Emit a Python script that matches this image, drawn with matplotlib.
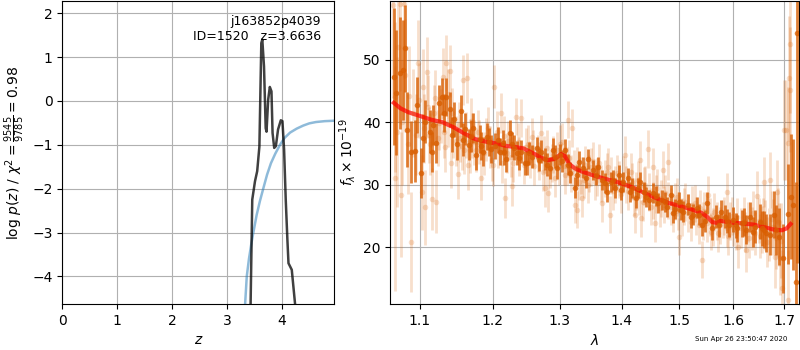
import matplotlib
matplotlib.use("Agg")
import matplotlib.pyplot as plt
import numpy as np

# ---- redshift probability ----
pz_z = [3.42, 3.43, 3.46, 3.51, 3.55, 3.59, 3.625, 3.643, 3.674, 3.705, 3.72,
        3.75, 3.78, 3.81, 3.83, 3.86, 3.89, 3.93, 3.98, 4.01, 4.04, 4.07,
        4.10, 4.12, 4.18, 4.24, 4.27]
pz_logp = [-6.0, -4.63, -2.25, -1.83, -1.60, -1.04, 1.32, 1.40, 0.79, -0.62, -0.70,
           0.03, 0.32, 0.22, -0.73, -1.07, -1.03, -0.65, -0.44, -0.46, -1.11, -2.25,
           -3.16, -3.70, -3.85, -4.63, -6.0]

cum_z = [3.30, 3.33, 3.36, 3.40, 3.44, 3.48, 3.54, 3.60, 3.66, 3.73, 3.80, 3.88,
         3.965, 4.05, 4.15, 4.27, 4.39, 4.50, 4.62, 4.78, 4.955]
cum_log = [-5.2, -4.63, -4.0, -3.6, -3.28, -3.0, -2.6, -2.28, -2.0, -1.68, -1.42, -1.2,
           -1.0, -0.84, -0.72, -0.63, -0.56, -0.51, -0.48, -0.46, -0.45]

# ---- spectrum: well-sampled beams ----
wave_a = [1.0663, 1.0693, 1.0736, 1.0779, 1.0809, 1.0834, 1.0886, 1.0931, 1.0965, 1.1017,
          1.1070, 1.1128, 1.1163, 1.1208, 1.1249, 1.1297, 1.1351, 1.1397, 1.1456, 1.1502,
          1.1557, 1.1604, 1.1659, 1.1719, 1.1766, 1.1813, 1.1860, 1.1921, 1.1978, 1.2036,
          1.2100, 1.2148, 1.2196, 1.2245, 1.2308, 1.2357, 1.2416, 1.2475,
          1.2497, 1.2573, 1.2648, 1.2713, 1.2774, 1.2850, 1.2901, 1.2954, 1.3005, 1.3083,
          1.3162, 1.3241, 1.3304, 1.3373, 1.3454, 1.3535, 1.3606, 1.3681, 1.3753, 1.3824,
          1.3890, 1.3956, 1.4028, 1.4102, 1.4170, 1.4243, 1.4311, 1.4385, 1.4467, 1.4541,
          1.4628, 1.4698,
          1.4776, 1.4847, 1.4924, 1.5000, 1.5072, 1.5162, 1.5242, 1.5316, 1.5407, 1.5500,
          1.5593, 1.5674, 1.5762, 1.5844, 1.5925, 1.6001, 1.6078, 1.6163, 1.6246, 1.6324,
          1.6409, 1.6507, 1.6601, 1.6706, 1.6786, 1.6887, 1.6976, 1.7070, 1.7139, 1.7181,
          1.7249, 1.7263]
flux_a = [47.3, 44.7, 47.9, 48.3, 51.8, 38.8, 35.2, 35.4, 42.7, 31.9,
          40.1, 38.5, 35.2, 36.7, 43.0, 44.1, 44.0, 42.1, 40.5, 36.5,
          41.8, 38.9, 36.4, 39.1, 34.8, 37.3, 35.3, 37.7, 35.7, 36.2,
          35.3, 36.7, 34.1, 38.3, 35.9, 35.1, 35.3, 33.5,
          33.5, 34.5, 35.9, 35.3, 34.1, 32.7, 35.6, 32.7, 34.8, 35.6,
          31.9, 29.5, 33.7, 32.7, 34.1, 32.4, 32.9, 30.8, 28.9, 30.5,
          29.5, 31.6, 30.5, 31.1, 29.5, 27.9, 30.4, 28.9, 27.6, 28.7,
          27.1, 27.6,
          26.5, 28.4, 26.1, 27.3, 25.7, 26.8, 25.2, 26.3, 23.6, 27.1,
          23.0, 24.9, 25.7, 24.9, 23.6, 24.4, 23.0, 23.8, 22.8, 24.9,
          23.3, 24.1, 22.8, 22.0, 25.2, 21.7, 18.2, 25.3, 28.1, 26.8,
          14.5, 54.3]
err_a = [11.0, 10.0, 9.0, 8.0, 7.0, 6.0, 5.0, 5.0, 4.5, 4.0,
         3.5, 3.5, 3.2, 3.2, 3.0, 3.0, 3.0, 2.8, 2.8, 2.6,
         2.6, 2.5, 2.5, 2.4, 2.4, 2.3, 2.3, 2.2, 2.2, 2.1,
         2.1, 2.0, 2.0, 2.0, 2.0, 1.9, 1.9, 1.9,
         1.9, 1.9, 1.8, 1.8, 1.8, 1.8, 1.8, 1.8, 1.7, 1.7,
         1.7, 1.7, 1.7, 1.7, 1.6, 1.6, 1.6, 1.6, 1.6, 1.6,
         1.6, 1.6, 1.6, 1.6, 1.6, 1.6, 1.6, 1.6, 1.6, 1.6,
         1.6, 1.6,
         1.6, 1.6, 1.6, 1.6, 1.7, 1.7, 1.7, 1.7, 1.8, 1.8,
         1.8, 1.8, 1.9, 1.9, 2.0, 2.0, 2.1, 2.2, 2.3, 2.4,
         2.6, 2.8, 3.0, 3.3, 3.8, 4.5, 5.5, 8.0, 10.0, 10.5,
         16.0, 36.8]

wave_a2 = [1.1040, 1.1180, 1.1320, 1.1430, 1.1580, 1.1690, 1.1840, 1.1950, 1.2070, 1.2170,
           1.2280, 1.2380, 1.2530, 1.2680, 1.2800, 1.2930, 1.3040, 1.3130, 1.3270, 1.3420,
           1.3570, 1.3720, 1.3860, 1.3990, 1.4140, 1.4280, 1.4420, 1.4580, 1.4740, 1.4880,
           1.5030, 1.5200, 1.5360, 1.5460, 1.5720, 1.5880, 1.6040, 1.6200, 1.6370, 1.6560,
           1.6640, 1.6830]
flux_a2 = [37.5, 39.5, 41.5, 38.0, 37.2, 37.8, 36.2, 36.8, 37.2, 35.2,
           36.5, 34.2, 35.0, 34.0, 33.2, 34.5, 33.8, 33.2, 31.5, 31.0,
           31.5, 30.2, 30.8, 29.2, 28.8, 29.5, 28.0, 28.2, 27.2, 25.5,
           26.0, 24.8, 25.2, 24.2, 23.5, 24.2, 23.5, 24.0, 22.5, 23.0,
           22.3, 22.8]
err_a2 = [3.8, 3.2, 3.0, 2.8, 2.6, 2.5, 2.3, 2.2, 2.1, 2.0,
          2.0, 1.9, 1.9, 1.8, 1.8, 1.8, 1.7, 1.7, 1.7, 1.6,
          1.6, 1.6, 1.6, 1.6, 1.6, 1.6, 1.6, 1.6, 1.6, 1.6,
          1.7, 1.7, 1.7, 1.8, 1.8, 1.9, 2.0, 2.2, 2.4, 2.8,
          3.0, 4.0]

# ---- spectrum: noisier beams ----
wave_b = [1.0650, 1.0673, 1.0700, 1.0741, 1.0750, 1.0790, 1.0860, 1.0886, 1.0974, 1.1026,
          1.1044, 1.1070, 1.1096, 1.1120, 1.1159, 1.1185, 1.1218, 1.1255, 1.1306, 1.1330,
          1.1350, 1.1380, 1.1405, 1.1419, 1.1450, 1.1511, 1.1540, 1.1581, 1.1600, 1.1636,
          1.1650, 1.1690, 1.1740, 1.1790, 1.1837, 1.1880, 1.1930, 1.1990, 1.2019, 1.2060,
          1.2114, 1.2130, 1.2180, 1.2220, 1.2260, 1.2279, 1.2343, 1.2370, 1.2416, 1.2450,
          1.2520, 1.2573, 1.2610, 1.2660, 1.2713, 1.2740, 1.2774, 1.2800, 1.2820, 1.2880,
          1.2920, 1.2960, 1.3032, 1.3060, 1.3090, 1.3126, 1.3150, 1.3189, 1.3220, 1.3241,
          1.3268, 1.3300, 1.3357, 1.3400, 1.3440, 1.3500, 1.3560, 1.3620, 1.3681, 1.3720,
          1.3780, 1.3807, 1.3860, 1.3920, 1.3990, 1.4057, 1.4100, 1.4150, 1.4200, 1.4226,
          1.4270, 1.4311, 1.4328, 1.4360, 1.4400, 1.4439, 1.4500, 1.4541, 1.4564, 1.4600,
          1.4650, 1.4705, 1.4750, 1.4804, 1.4880, 1.4950, 1.5000, 1.5050, 1.5100, 1.5200,
          1.5280, 1.5350, 1.5407, 1.5450, 1.5530, 1.5580, 1.5640, 1.5700, 1.5800, 1.5876,
          1.5900, 1.5970, 1.6040, 1.6097, 1.6200, 1.6246, 1.6300, 1.6380, 1.6456, 1.6520,
          1.6580, 1.6601, 1.6650, 1.6720, 1.6750, 1.6821, 1.6855, 1.6900, 1.6921, 1.6960,
          1.7003, 1.7038, 1.7070, 1.7085, 1.7092, 1.7110, 1.7125]
flux_b = [58.8, 31.0, 38.5, 59.0, 28.4, 58.9, 44.2, 20.8, 49.4, 28.8,
          45.7, 26.4, 48.1, 38.0, 27.7, 41.5, 27.3, 39.8, 47.3, 36.0,
          49.5, 44.5, 48.2, 33.5, 38.2, 31.7, 37.5, 46.7, 35.5, 47.0,
          33.1, 40.2, 36.8, 38.5, 31.0, 35.0, 39.0, 34.0, 45.7, 38.5,
          41.5, 33.5, 27.9, 37.0, 34.5, 29.8, 40.9, 36.8, 40.7, 33.2,
          36.5, 37.7, 33.0, 35.0, 38.2, 32.0, 29.5, 35.8, 28.7, 33.5,
          31.0, 35.5, 36.9, 33.0, 31.5, 40.4, 34.2, 39.1, 32.5, 26.8,
          26.0, 30.5, 27.9, 33.2, 30.0, 32.8, 30.5, 33.5, 27.1, 31.0,
          32.8, 25.2, 29.0, 31.8, 28.5, 34.8, 29.0, 32.0, 28.0, 25.2,
          30.8, 34.0, 24.6, 27.2, 30.0, 35.7, 26.5, 32.8, 23.8, 29.5,
          26.2, 32.4, 28.6, 33.7, 25.5, 28.0, 21.7, 24.8, 27.2, 24.0,
          27.0, 23.5, 18.0, 25.8, 28.4, 22.5, 25.6, 22.2, 24.5, 28.9,
          21.8, 25.0, 22.5, 20.1, 24.8, 19.6, 21.5, 25.5, 28.2, 21.8,
          24.0, 30.5, 20.8, 30.7, 24.5, 18.5, 28.9, 22.0, 18.3, 13.5,
          38.8, 38.7, 11.6, 36.7, 47.0, 45.2, 52.5]
err_b = [15.0, 18.0, 12.0, 14.0, 10.0, 12.0, 8.0, 8.0, 7.0, 6.0,
         6.0, 6.0, 5.5, 4.5, 5.0, 4.5, 5.0, 4.2, 4.5, 4.0,
         4.5, 4.0, 4.2, 4.0, 4.0, 4.0, 3.8, 4.0, 3.8, 4.0,
         4.0, 3.6, 3.6, 3.5, 3.5, 3.5, 3.4, 3.4, 3.5, 3.3,
         3.2, 3.3, 3.2, 3.2, 3.2, 3.2, 3.0, 3.1, 3.0, 3.1,
         3.0, 3.0, 3.0, 3.0, 3.0, 3.0, 3.0, 3.0, 3.0, 3.0,
         3.0, 3.0, 3.0, 3.0, 3.0, 3.0, 3.0, 3.0, 3.0, 3.0,
         3.0, 3.0, 3.0, 3.0, 3.0, 3.0, 3.0, 3.0, 3.0, 3.0,
         3.0, 3.0, 3.0, 3.0, 3.0, 3.0, 3.0, 3.0, 3.0, 3.0,
         3.0, 3.0, 3.0, 3.0, 3.0, 3.0, 3.0, 3.0, 3.0, 3.0,
         3.0, 3.0, 3.0, 3.0, 3.0, 3.0, 3.0, 3.0, 3.0, 3.0,
         3.0, 3.0, 3.0, 3.0, 3.0, 3.0, 3.0, 3.0, 3.0, 3.0,
         3.0, 3.0, 3.0, 3.5, 3.2, 3.5, 3.2, 3.5, 4.0, 3.5,
         3.8, 4.0, 4.0, 4.5, 4.5, 5.0, 5.0, 5.0, 6.0, 6.0,
         8.0, 8.0, 8.0, 9.0, 10.0, 10.0, 11.0]

wave_c = [1.0680, 1.0720, 1.0765, 1.0800, 1.0840, 1.0905, 1.0945, 1.0990, 1.1050, 1.1110,
          1.1140, 1.1200, 1.1235, 1.1280, 1.1320, 1.1370, 1.1430, 1.1480, 1.1525, 1.1570,
          1.1620, 1.1675, 1.1710, 1.1760, 1.1810, 1.1900, 1.1960, 1.2000, 1.2080, 1.2160,
          1.2200, 1.2300, 1.2390, 1.2480, 1.2550, 1.2590, 1.2690, 1.2760, 1.2850, 1.2900,
          1.2990, 1.3010, 1.3110, 1.3180, 1.3270, 1.3330, 1.3380, 1.3470, 1.3530, 1.3600,
          1.3660, 1.3750, 1.3830, 1.3890, 1.3950, 1.4020, 1.4080, 1.4180, 1.4240, 1.4290,
          1.4380, 1.4460, 1.4530, 1.4580, 1.4680, 1.4730, 1.4790, 1.4850, 1.4920, 1.4980,
          1.5080, 1.5150, 1.5230, 1.5300, 1.5380, 1.5420, 1.5500, 1.5560, 1.5620, 1.5680,
          1.5750, 1.5830, 1.5880, 1.5940, 1.6000, 1.6070, 1.6150, 1.6220, 1.6280, 1.6350,
          1.6420, 1.6490, 1.6550, 1.6620, 1.6700, 1.6780, 1.6840, 1.6880, 1.6940]
flux_c = [44.0, 52.0, 40.0, 47.5, 36.5, 41.5, 38.0, 43.5, 39.0, 42.5,
          36.5, 43.8, 37.5, 41.0, 38.5, 40.0, 41.5, 37.0, 39.5, 36.2,
          38.0, 35.5, 37.8, 35.5, 36.8, 37.2, 36.0, 33.2, 36.0, 37.8,
          35.0, 33.5, 34.5, 36.0, 34.0, 35.8, 33.8, 34.8, 32.5, 34.8,
          33.0, 36.5, 33.0, 31.8, 33.0, 31.5, 30.8, 31.8, 33.8, 31.2,
          30.2, 32.0, 31.5, 30.0, 30.8, 31.6, 30.0, 30.5, 29.0, 28.2,
          29.8, 28.8, 27.5, 28.5, 27.8, 26.8, 27.5, 26.5, 27.3, 25.8,
          26.5, 25.5, 26.8, 25.0, 26.2, 24.2, 23.8, 24.8, 23.2, 24.2,
          23.5, 25.0, 23.0, 24.2, 23.2, 24.8, 23.0, 22.5, 24.0, 23.0,
          22.2, 24.2, 22.8, 23.5, 22.0, 23.2, 21.5, 24.0, 21.0]
err_c = [12.0, 12.0, 10.0, 9.0, 8.0, 7.0, 6.5, 6.0, 5.5, 5.0,
         5.0, 4.5, 4.5, 4.3, 4.2, 4.0, 4.0, 4.0, 3.8, 3.8,
         3.7, 3.6, 3.6, 3.5, 3.5, 3.4, 3.4, 3.4, 3.3, 3.2,
         3.2, 3.1, 3.1, 3.0, 3.0, 3.0, 3.0, 3.0, 3.0, 3.0,
         3.0, 3.0, 3.0, 3.0, 3.0, 3.0, 3.0, 3.0, 3.0, 3.0,
         3.0, 3.0, 3.0, 3.0, 3.0, 3.0, 3.0, 3.0, 3.0, 3.0,
         3.0, 3.0, 3.0, 3.0, 3.0, 3.0, 3.0, 3.0, 3.0, 3.0,
         3.0, 3.0, 3.0, 3.0, 3.0, 3.0, 3.0, 3.0, 3.0, 3.0,
         3.0, 3.0, 3.0, 3.0, 3.0, 3.0, 3.2, 3.2, 3.2, 3.4,
         3.5, 3.6, 3.8, 4.0, 4.2, 4.5, 5.0, 5.5, 6.0]

# ---- best-fit model ----
model_wave = [1.0663, 1.075, 1.085, 1.100, 1.115, 1.130, 1.145, 1.160, 1.175, 1.190,
              1.205, 1.220, 1.235, 1.245, 1.260, 1.272, 1.282, 1.293, 1.302, 1.308,
              1.315, 1.324, 1.335, 1.350, 1.370, 1.390, 1.400, 1.420, 1.440, 1.460,
              1.480, 1.500, 1.520, 1.540, 1.550, 1.560, 1.568, 1.575, 1.585, 1.600,
              1.620, 1.640, 1.660, 1.680, 1.695, 1.705, 1.713]
model_flux = [43.1, 42.2, 41.6, 41.0, 40.4, 40.0, 39.2, 38.2, 37.3, 36.9,
              36.6, 36.2, 36.0, 35.8, 35.0, 34.3, 33.9, 34.2, 34.9, 34.6,
              33.3, 32.6, 32.1, 31.6, 31.0, 30.5, 30.2, 29.5, 28.6, 27.8,
              27.1, 26.6, 26.1, 25.5, 24.9, 24.0, 23.9, 24.2, 24.1, 23.9,
              23.8, 23.6, 23.2, 22.8, 22.7, 23.0, 23.7]

wave_ticks = [1.1, 1.2, 1.3, 1.4, 1.5, 1.6, 1.7]

orange = '#d95f02'

fig = plt.figure(figsize=(8, 3.5), dpi=100)
ax1 = fig.add_axes([0.0779, 0.1314, 0.340, 0.8657])
ax2 = fig.add_axes([0.4881, 0.1314, 0.5110, 0.8657])

# left: log p(z)
ax1.plot(cum_z, cum_log, color='#1f77b4', alpha=0.5, lw=1.8)
ax1.plot(pz_z, pz_logp, color='k', alpha=0.75, lw=1.8)
ax1.set_xlim(0, 4.955)
ax1.set_ylim(-4.63, 2.28)
ax1.set_xticks([0, 1, 2, 3, 4])
ax1.set_yticks([-4, -3, -2, -1, 0, 1, 2])
ax1.grid(True)
ax1.set_xlabel(r'$z$')
ax1.set_ylabel(r'$\log\,p(z)$' + ' / ' + r'$\chi^2=\frac{9545}{9785}=0.98$')
ax1.text(0.95, 0.955, 'j163852p4039\nID=1520   z=3.6636', ha='right', va='top',
         transform=ax1.transAxes, fontsize=9)

# right: spectrum
for wv, fl, er in [(wave_b, flux_b, err_b), (wave_c, flux_c, err_c)]:
    ax2.errorbar(wv, fl, yerr=er, marker='o', ms=4, mew=0, ls='none',
                 color=orange, alpha=0.2, elinewidth=2)
for wv, fl, er in [(wave_a, flux_a, err_a), (wave_a2, flux_a2, err_a2)]:
    ax2.errorbar(wv, fl, yerr=er, marker='o', ms=4, mew=0, ls='none',
                 color=orange, alpha=0.8, elinewidth=2)
ax2.plot(model_wave, model_flux, color='r', alpha=0.7, lw=3)
ax2.set_xscale('log')
ax2.set_xlim(1.062, 1.731)
ax2.set_ylim(10.9, 59.4)
ax2.minorticks_off()
ax2.set_xticks(wave_ticks)
ax2.set_xticklabels(['%.1f' % w for w in wave_ticks])
ax2.set_yticks([20, 30, 40, 50])
ax2.grid(True)
ax2.set_xlabel(r'$\lambda$')
ax2.set_ylabel(r'$f_\lambda \times 10^{-19}$')

fig.text(0.984, 0.022, 'Sun Apr 26 23:50:47 2020', ha='right', va='bottom', fontsize=5)

fig.savefig('out.png', dpi=100)
